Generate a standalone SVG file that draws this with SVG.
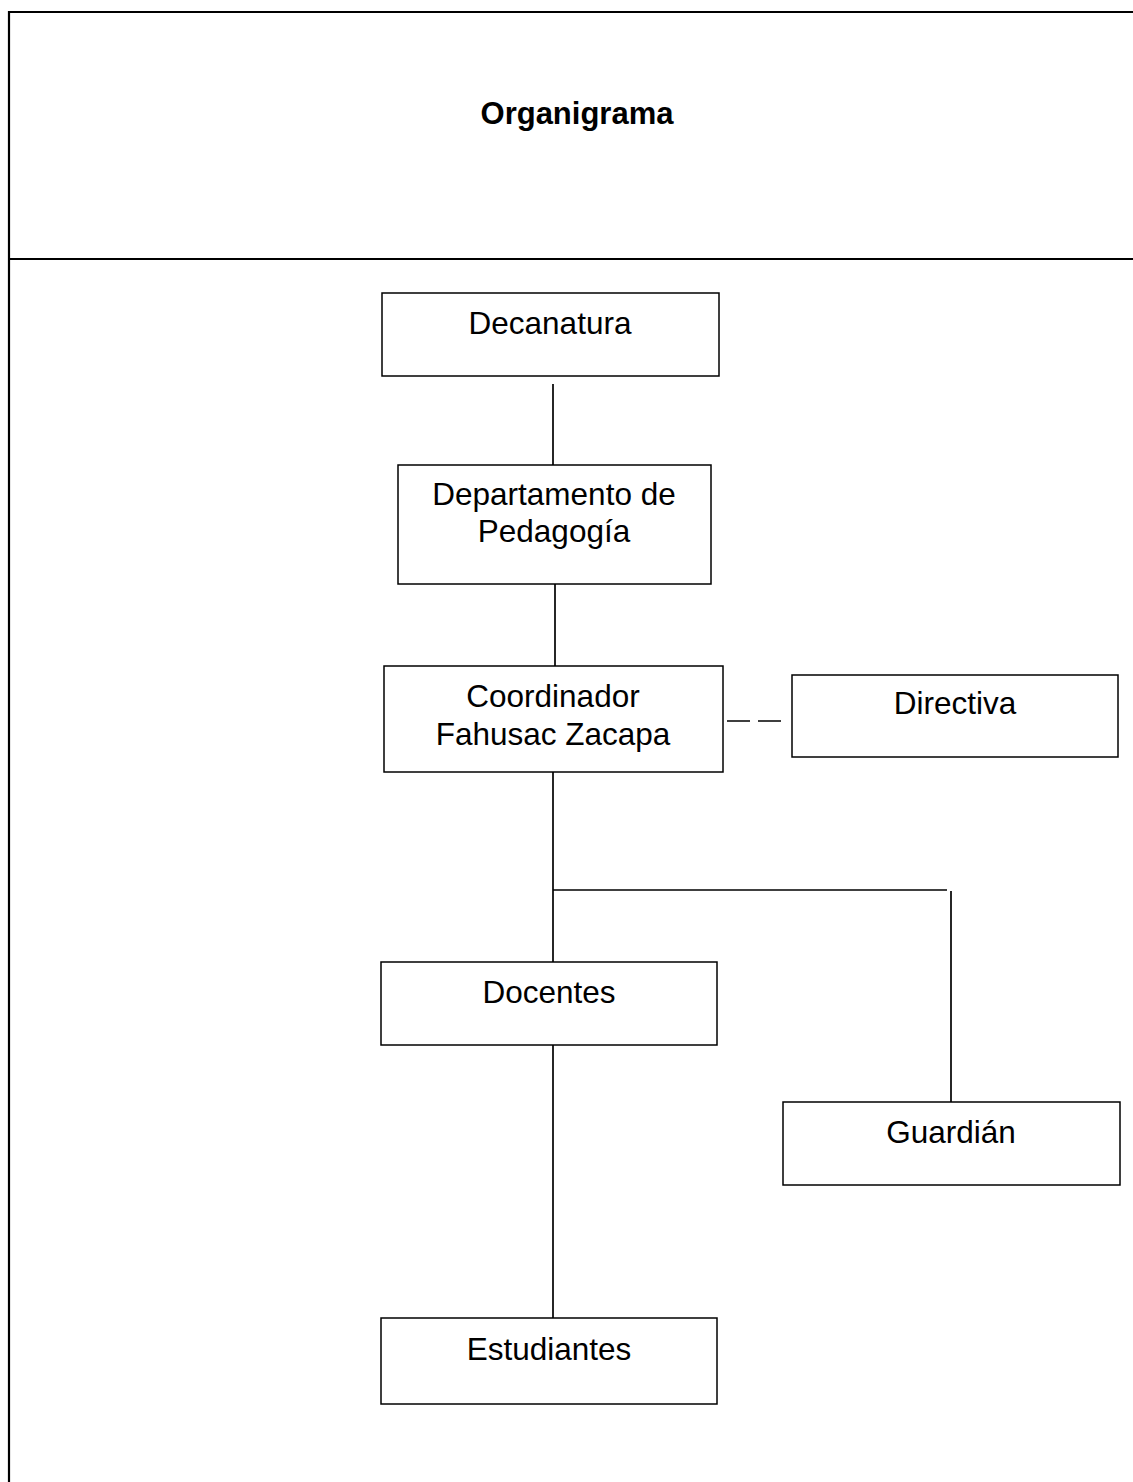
<svg xmlns="http://www.w3.org/2000/svg" width="1133" height="1482" viewBox="0 0 1133 1482">
<style>
.frame{stroke:#000;stroke-width:2.2;fill:none}
.box{fill:#fff;stroke:#000;stroke-width:1.5}
.lbl{font-family:"Liberation Sans",Arial,sans-serif;font-size:31.5px;text-anchor:middle;fill:#000}
.title{font-family:"Liberation Sans",Arial,sans-serif;font-size:31px;font-weight:bold;text-anchor:middle;fill:#000}
.con{stroke:#000;stroke-width:1.7;fill:none}
</style>
<rect width="1133" height="1482" fill="#fff"/>
<g id="frame">
<path class="frame" d="M9,1482 V12 H1133 M9,259 H1133"/>
<text class="title" x="577" y="124">Organigrama</text>
</g>
<g id="connectors">
<line class="con" x1="553" y1="384" x2="553" y2="465"/>
<line class="con" x1="555" y1="584" x2="555" y2="666"/>
<line class="con" x1="553" y1="772" x2="553" y2="962"/>
<line class="con" x1="553" y1="890" x2="947" y2="890"/>
<line class="con" x1="951" y1="891" x2="951" y2="1102"/>
<line class="con" x1="553" y1="1045" x2="553" y2="1318"/>
<line class="con" x1="727" y1="721" x2="782" y2="721" stroke-dasharray="23 8"/>
</g>
<g id="decanatura">
<rect class="box" x="382" y="293" width="337" height="83"/>
<text class="lbl" x="550" y="334">Decanatura</text>
</g>
<g id="departamento">
<rect class="box" x="398" y="465" width="313" height="119"/>
<text class="lbl" x="554" y="505">Departamento de</text>
<text class="lbl" x="554" y="542">Pedagogía</text>
</g>
<g id="coordinador">
<rect class="box" x="384" y="666" width="339" height="106"/>
<text class="lbl" x="553" y="707">Coordinador</text>
<text class="lbl" x="553" y="745">Fahusac Zacapa</text>
</g>
<g id="directiva">
<rect class="box" x="792" y="675" width="326" height="82"/>
<text class="lbl" x="955" y="714">Directiva</text>
</g>
<g id="docentes">
<rect class="box" x="381" y="962" width="336" height="83"/>
<text class="lbl" x="549" y="1003">Docentes</text>
</g>
<g id="guardian">
<rect class="box" x="783" y="1102" width="337" height="83"/>
<text class="lbl" x="951" y="1143">Guardián</text>
</g>
<g id="estudiantes">
<rect class="box" x="381" y="1318" width="336" height="86"/>
<text class="lbl" x="549" y="1360">Estudiantes</text>
</g>
</svg>
